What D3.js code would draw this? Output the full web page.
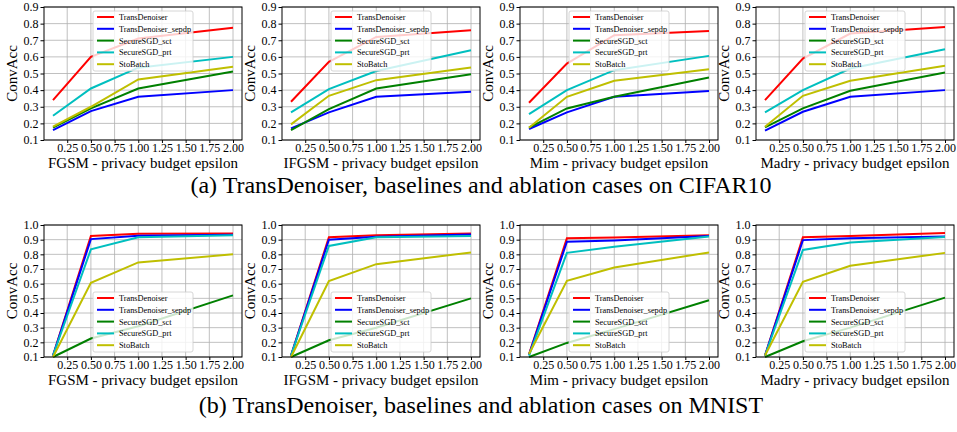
<!DOCTYPE html>
<html>
<head>
<meta charset="utf-8">
<script src="https://cdn.jsdelivr.net/npm/d3@7"></script>
<style>
  body { margin: 0; background: #fff; }
  text { font-family: "Liberation Serif", "DejaVu Serif", serif; }
</style>
</head>
<body>
<div id="chart"></div>
<script>
var svgWidth = 957;
var svgHeight = 432;

// data
var epsilons = [0.1, 0.5, 1.0, 2.0];
var seriesNames = ["TransDenoiser", "TransDenoiser_sepdp", "SecureSGD_sct", "SecureSGD_prt", "StoBatch"];
var seriesColors = ["#ff0000", "#0000ff", "#008000", "#00bfbf", "#bfbf00"];
var attacks = ["FGSM", "IFGSM", "Mim", "Madry"];
var xTicks = [0.25, 0.5, 0.75, 1.0, 1.25, 1.5, 1.75, 2.0];
var yTicksCifar = [0.1, 0.2, 0.3, 0.4, 0.5, 0.6, 0.7, 0.8, 0.9];
var yTicksMnist = [0.1, 0.2, 0.3, 0.4, 0.5, 0.6, 0.7, 0.8, 0.9, 1.0];
var captions = ["(a) TransDenoiser, baselines and ablation cases on CIFAR10",
                "(b) TransDenoiser, baselines and ablation cases on MNIST"];

// CIFAR10, one array per attack, rows in seriesNames order
var cifarFGSM  = [[0.34, 0.60, 0.71, 0.775], [0.16, 0.274, 0.36, 0.40], [0.174, 0.29, 0.41, 0.512], [0.246, 0.41, 0.535, 0.60], [0.18, 0.30, 0.464, 0.54]];
var cifarIFGSM = [[0.33, 0.57, 0.72, 0.76], [0.17, 0.266, 0.36, 0.39], [0.16, 0.286, 0.41, 0.496], [0.266, 0.406, 0.515, 0.64], [0.194, 0.366, 0.46, 0.536]];
var cifarMim   = [[0.324, 0.56, 0.73, 0.756], [0.166, 0.266, 0.36, 0.394], [0.174, 0.29, 0.36, 0.476], [0.256, 0.40, 0.52, 0.606], [0.174, 0.36, 0.456, 0.526]];
var cifarMadry = [[0.34, 0.59, 0.74, 0.78], [0.156, 0.27, 0.36, 0.40], [0.176, 0.29, 0.396, 0.506], [0.266, 0.40, 0.53, 0.646], [0.18, 0.366, 0.456, 0.546]];

// MNIST
var mnistFGSM  = [[0.11, 0.925, 0.94, 0.942], [0.11, 0.904, 0.927, 0.933], [0.10, 0.226, 0.31, 0.52], [0.11, 0.834, 0.916, 0.93], [0.10, 0.606, 0.745, 0.80]];
var mnistIFGSM = [[0.11, 0.916, 0.93, 0.942], [0.11, 0.90, 0.92, 0.935], [0.10, 0.214, 0.30, 0.50], [0.11, 0.857, 0.916, 0.925], [0.10, 0.617, 0.733, 0.813]];
var mnistMim   = [[0.118, 0.909, 0.915, 0.93], [0.115, 0.886, 0.895, 0.925], [0.10, 0.196, 0.29, 0.487], [0.11, 0.81, 0.852, 0.922], [0.12, 0.62, 0.71, 0.813]];
var mnistMadry = [[0.11, 0.916, 0.925, 0.945], [0.11, 0.897, 0.91, 0.922], [0.10, 0.207, 0.30, 0.505], [0.11, 0.83, 0.88, 0.918], [0.11, 0.613, 0.722, 0.81]];

var cifarData = [cifarFGSM, cifarIFGSM, cifarMim, cifarMadry];
var mnistData = [mnistFGSM, mnistIFGSM, mnistMim, mnistMadry];

var svg = d3.select("#chart")
  .append("svg")
  .attr("width", svgWidth)
  .attr("height", svgHeight);

var panelLefts = [44, 282, 520, 756];
var panelWidth = 198;

var rows = [
  { data: cifarData, top: 7, bottom: 140, yDomain: [0.1, 0.9], yTicks: yTicksCifar, legendTop: 11, captionY: 193 },
  { data: mnistData, top: 225, bottom: 357, yDomain: [0.1, 1.0], yTicks: yTicksMnist, legendTop: 292, captionY: 413 }
];

rows.forEach(function(row, r) {
  attacks.forEach(function(attack, p) {
    var left = panelLefts[p];
    var g = svg.append("g")
      .attr("transform", `translate(${left}, ${row.top})`);
    var h = row.bottom - row.top;

    // matplotlib default 5% margin on x
    var x = d3.scaleLinear().domain([0.1 - 0.095, 2.0 + 0.095]).range([0, panelWidth]);
    var y = d3.scaleLinear().domain(row.yDomain).range([h, 0]);

    // grid
    g.append("g")
      .selectAll("line.vx")
      .data(xTicks)
      .enter()
      .append("line")
      .attr("x1", d => x(d)).attr("x2", d => x(d))
      .attr("y1", 0).attr("y2", h)
      .attr("stroke", "#b0b0b0").attr("stroke-width", 0.8);
    g.append("g")
      .selectAll("line.hy")
      .data(row.yTicks)
      .enter()
      .append("line")
      .attr("x1", 0).attr("x2", panelWidth)
      .attr("y1", d => y(d)).attr("y2", d => y(d))
      .attr("stroke", "#b0b0b0").attr("stroke-width", 0.8);

    // axes
    var bottomAxis = d3.axisBottom(x).tickValues(xTicks).tickFormat(d3.format(".2f")).tickSize(3).tickPadding(0);
    var leftAxis = d3.axisLeft(y).tickValues(row.yTicks).tickFormat(d3.format(".1f")).tickSize(3.5).tickPadding(2);

    var xa = g.append("g")
      .attr("transform", `translate(0, ${h})`)
      .call(bottomAxis);
    var ya = g.append("g")
      .call(leftAxis);
    [xa, ya].forEach(function(a) {
      a.select(".domain").remove();
      a.selectAll("text")
        .style("font-family", "Liberation Serif, serif")
        .style("font-size", "12px")
        .attr("fill", "#000");
      a.selectAll("line").attr("stroke", "#000");
    });

    // lines
    var line = d3.line()
      .x((d, i) => x(epsilons[i]))
      .y(d => y(d));

    g.selectAll("path.series")
      .data(row.data[p])
      .enter()
      .append("path")
      .attr("class", "series")
      .attr("d", d => line(d))
      .attr("fill", "none")
      .attr("stroke", (d, i) => seriesColors[i])
      .attr("stroke-width", 2);

    // frame
    g.append("rect")
      .attr("width", panelWidth)
      .attr("height", h)
      .attr("fill", "none")
      .attr("stroke", "#000")
      .attr("stroke-width", 1);

    // legend
    var lg = g.append("g")
      .attr("transform", `translate(49, ${row.legendTop - row.top})`);
    lg.append("rect")
      .attr("width", 100)
      .attr("height", 60)
      .attr("rx", 2)
      .attr("fill", "#fff")
      .attr("fill-opacity", 0.8)
      .attr("stroke", "#cccccc")
      .attr("stroke-width", 0.8);
    seriesNames.forEach(function(name, i) {
      var ly = 6 + i * 11.8;
      lg.append("line")
        .attr("x1", 4).attr("x2", 21)
        .attr("y1", ly).attr("y2", ly)
        .attr("stroke", seriesColors[i])
        .attr("stroke-width", 2);
      lg.append("text")
        .attr("x", 26)
        .attr("y", ly + 3)
        .style("font-size", "8.3px")
        .text(name);
    });

    // axis labels
    g.append("text")
      .attr("transform", "rotate(-90)")
      .attr("x", -h / 2)
      .attr("y", -27)
      .attr("text-anchor", "middle")
      .style("font-size", "15px")
      .text("ConvAcc");

    g.append("text")
      .attr("x", panelWidth / 2)
      .attr("y", h + 28)
      .attr("text-anchor", "middle")
      .style("font-size", "15px")
      .text(`${attack} - privacy budget epsilon`);
  });

  svg.append("text")
    .attr("x", 481)
    .attr("y", row.captionY)
    .attr("text-anchor", "middle")
    .style("font-size", "24px")
    .text(captions[r]);
});
</script>
</body>
</html>
